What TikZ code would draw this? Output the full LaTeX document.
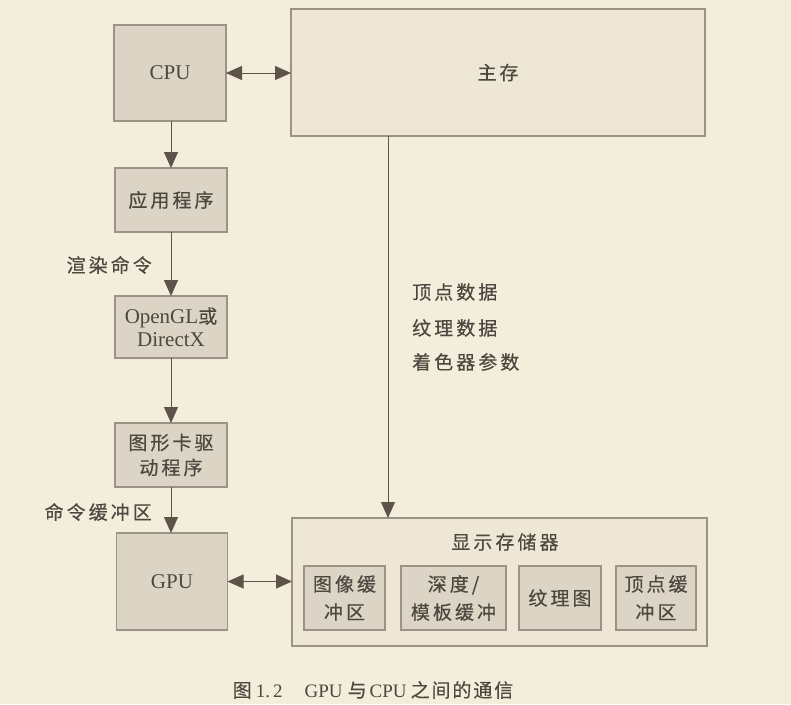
\documentclass[tikz,border=0pt]{standalone}
\usepackage{fontspec}
\setmainfont{Liberation Serif}
\newfontfamily\cjk[LetterSpace=16,FakeBold=0.4]{Noto Sans CJK SC}
\newfontfamily\cjkc[LetterSpace=10,FakeBold=0.3]{Noto Sans CJK SC}
\usetikzlibrary{arrows.meta}
\definecolor{bgc}{HTML}{F3EDDC}
\definecolor{boxc}{HTML}{DCD4C4}
\definecolor{contc}{HTML}{EEE7D6}
\definecolor{bordc}{HTML}{9C9287}
\definecolor{txtc}{HTML}{4E4740}
\definecolor{arrc}{HTML}{5E5349}
\tikzset{
  blk/.style={draw=bordc, fill=boxc, line width=1.1pt, inner sep=0pt, outer sep=0pt,
    text=txtc, align=center, font=\fontsize{19}{26}\selectfont},
  cont/.style={draw=bordc, fill=contc, line width=1.1pt, inner sep=0pt, outer sep=0pt,
    text=txtc, align=center, font=\fontsize{19}{26}\selectfont},
  lbl/.style={text=txtc, inner sep=0pt, font=\fontsize{19}{22}\selectfont},
  arr/.style={draw=arrc, line width=1pt, -{Triangle[length=16pt,width=14pt]}},
  darr/.style={draw=arrc, line width=1pt, {Triangle[length=16pt,width=14pt]}-{Triangle[length=16pt,width=14pt]}},
  lat/.style={font=\fontsize{21}{24}\selectfont}
}
\begin{document}
\begin{tikzpicture}[x=1pt,y=-1pt]
\useasboundingbox (0,0) rectangle (791,704);
\fill[bgc] (0,0) rectangle (791,704);

% containers
\node[cont, minimum width=414pt, minimum height=127pt] (main) at (498,72.5) {{\cjk 主存}};
\node[cont, minimum width=415pt, minimum height=128pt] (disp) at (499.5,582) {};
\node[lbl] (disptitle) at (505,542) {{\cjk 显示存储器}};

% left column
\node[blk, lat, minimum width=112pt, minimum height=96pt] (cpu) at (170,73) {CPU};
\node[blk, minimum width=112pt, minimum height=64pt] (app) at (171,200) {{\cjk 应用程序}};
\node[blk, minimum width=112pt, minimum height=62pt, font=\fontsize{21}{23}\selectfont] (ogl) at (171,327) {OpenGL{\fontsize{19}{23}\selectfont\cjkc 或}\\DirectX};
\node[blk, minimum width=112pt, minimum height=64pt, font=\fontsize{19}{25}\selectfont] (drv) at (171,455) {{\cjk 图形卡驱}\\{\cjk 动程序}};
\node[blk, lat, minimum width=111pt, minimum height=97pt] (gpu) at (172,581.5) {GPU};

% sub boxes of display memory
\node[blk, minimum width=81pt, minimum height=64pt, font=\fontsize{19}{28}\selectfont] (fb) at (344.5,598) {{\cjk 图像缓}\\{\cjk 冲区}};
\node[blk, minimum width=105pt, minimum height=64pt, font=\fontsize{19}{28}\selectfont] (zb) at (453.5,598) {{\cjk 深度/}\\{\cjk 模板缓冲}};
\node[blk, minimum width=82pt, minimum height=64pt] (tex) at (560,598) {{\cjk 纹理图}};
\node[blk, minimum width=80pt, minimum height=64pt, font=\fontsize{19}{28}\selectfont] (vb) at (656,598) {{\cjk 顶点缓}\\{\cjk 冲区}};

% labels
\node[lbl, anchor=east] (l1) at (152,265) {{\cjk 渲染命令}};
\node[lbl, anchor=east] (l2) at (152,512) {{\cjk 命令缓冲区}};
\node[lbl, anchor=west] (d1) at (412,292) {{\cjk 顶点数据}};
\node[lbl, anchor=west] (d2) at (412,328) {{\cjk 纹理数据}};
\node[lbl, anchor=west] (d3) at (412,362) {{\cjk 着色器参数}};

% connectors
\coordinate (vline) at (388,0);
\draw[darr] (cpu.east) -- (main.west |- cpu.east);
\draw[arr] (cpu.south -| app.north) -- (app.north);
\draw[arr] (app.south) -- (ogl.north);
\draw[arr] (ogl.south) -- (drv.north);
\draw[arr] (drv.south) -- (drv.south |- gpu.north);
\draw[darr] (gpu.east) -- (disp.west |- gpu.east);
\draw[arr] (main.south -| vline) -- (disp.north -| vline);

% caption
\node[text=txtc, inner sep=0pt, font=\fontsize{19}{20}\selectfont] (cap) at (373,690)
  {{\cjkc 图}\hspace{4pt}1.\,2\hspace{22pt}GPU\hspace{5pt}{\cjkc 与}\hspace{3pt}CPU\hspace{4pt}{\cjkc 之间的通信}};
\end{tikzpicture}
\end{document}
